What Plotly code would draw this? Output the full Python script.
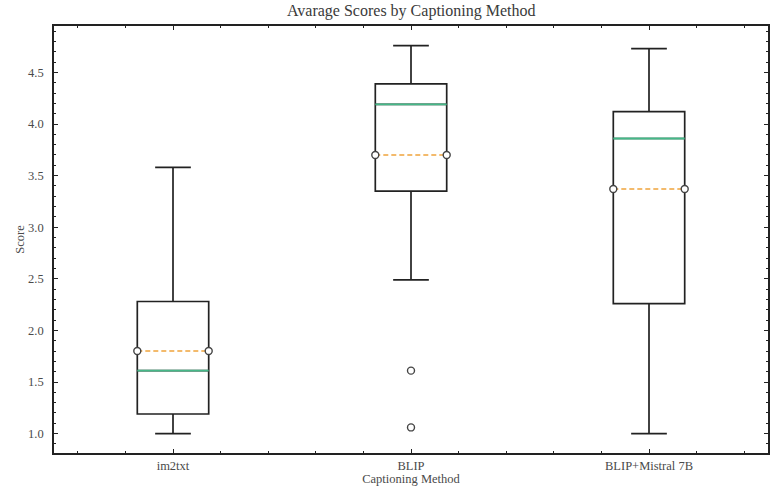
import plotly.graph_objects as go

categories = ["im2txt", "BLIP", "BLIP+Mistral 7B"]
lower_whisker = [1.00, 2.49, 1.00]
q1 = [1.19, 3.35, 2.26]
median = [1.61, 4.19, 3.86]
mean = [1.80, 3.70, 3.37]
q3 = [2.28, 4.39, 4.12]
upper_whisker = [3.58, 4.76, 4.73]
outliers = [[], [1.61, 1.06], []]

positions = [1, 2, 3]
box_width = 0.3
font_family = "Liberation Serif"
ink = "#222222"
text_col = "#4a4a4a"

fig = go.Figure()
for i, cat in enumerate(categories):
    fig.add_trace(go.Box(
        x=[positions[i]], q1=[q1[i]], median=[median[i]], q3=[q3[i]],
        lowerfence=[lower_whisker[i]], upperfence=[upper_whisker[i]],
        width=box_width, whiskerwidth=0.5, boxpoints=False,
        line=dict(color=ink, width=1.7), fillcolor="rgba(0,0,0,0)",
        name=cat, showlegend=False, hoverinfo="skip",
    ))
    half = box_width / 2
    # median line
    fig.add_trace(go.Scatter(
        x=[positions[i] - half, positions[i] + half], y=[median[i], median[i]],
        mode="lines", line=dict(color="#45b888", width=1.8),
        showlegend=False, hoverinfo="skip"))
    # mean line
    fig.add_trace(go.Scatter(
        x=[positions[i] - half, positions[i] + half], y=[mean[i], mean[i]],
        mode="lines+markers", line=dict(color="#f0a43c", width=1.5, dash="5px,3px"),
        marker=dict(symbol="circle", size=7, color="white",
                    line=dict(color="#444444", width=1.4)),
        showlegend=False, hoverinfo="skip"))
    if outliers[i]:
        fig.add_trace(go.Scatter(
            x=[positions[i]] * len(outliers[i]), y=outliers[i],
            mode="markers",
            marker=dict(symbol="circle", size=7, color="white",
                        line=dict(color="#444444", width=1.4)),
            showlegend=False, hoverinfo="skip"))

axis_common = dict(
    showline=True, linecolor=ink, linewidth=1.7, mirror="allticks",
    ticks="inside", ticklen=4, tickwidth=1.2, tickcolor=ink,
    showgrid=False, zeroline=False, automargin=False,
    tickfont=dict(family=font_family, size=12.5, color=text_col),
)

fig.update_layout(
    width=773, height=486,
    margin=dict(l=54, r=5, t=26, b=33),
    paper_bgcolor="white", plot_bgcolor="white",
    title=dict(text="Avarage Scores by Captioning Method", x=0.532, xanchor="center",
               y=0.991, yanchor="top",
               font=dict(family=font_family, size=16, color="#3a3a3a")),
    xaxis=dict(
        range=[0.5, 3.5], tickmode="array", tickvals=positions, ticktext=categories,
        minor=dict(ticks="inside", ticklen=2, tickwidth=1, tickcolor=ink,
                   tick0=0.2, dtick=0.2, showgrid=False),
        title=dict(text="Captioning Method", standoff=2,
                   font=dict(family=font_family, size=12.5, color=text_col)),
        **axis_common),
    yaxis=dict(
        range=[0.812, 4.95], tick0=1.0, dtick=0.5, tickformat=".1f",
        ticklabelstandoff=6,
        minor=dict(ticks="inside", ticklen=2, tickwidth=1, tickcolor=ink,
                   dtick=0.1, showgrid=False),
        title=dict(text="Score", standoff=1,
                   font=dict(family=font_family, size=12.5, color=text_col)),
        **axis_common),
)

fig.write_html("out.html")
